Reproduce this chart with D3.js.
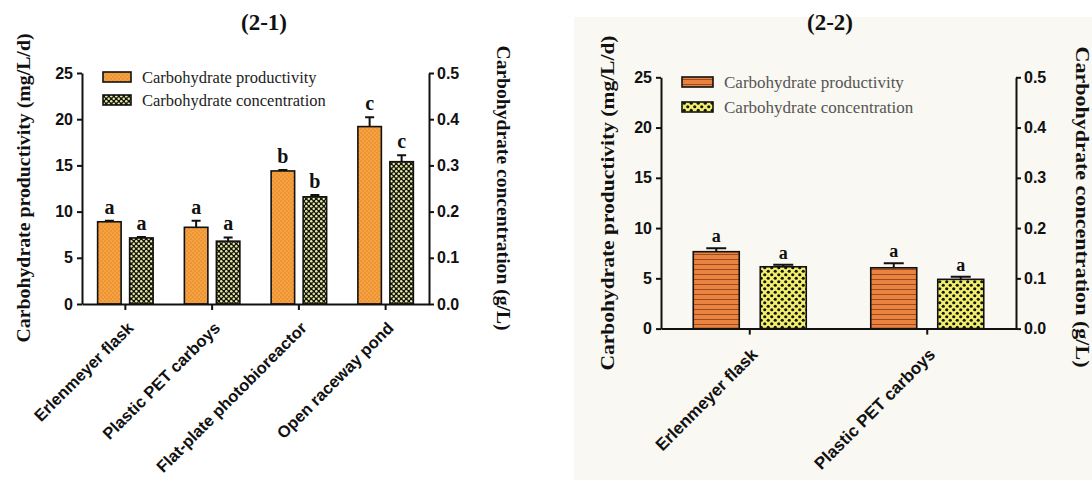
<!DOCTYPE html>
<html>
<head>
<meta charset="utf-8">
<script src="https://d3js.org/d3.v7.min.js"></script>
<style>
  body { margin:0; background:#fff; }
  svg text { font-family: "Liberation Sans", Arial, sans-serif; fill:#111; }
  .serif { font-family: "Liberation Serif", "Times New Roman", serif !important; }
  .axis path, .axis line { stroke:#111; stroke-width:2; }
  .axis text { font-weight:bold; font-size:15px; }
  .bar { stroke:#111; stroke-width:1.6; }
  .err { stroke:#111; stroke-width:2; fill:none; }
</style>
</head>
<body>
<svg id="chart" width="1092" height="480"></svg>
<script>
// ---- data, panel (2-1)
var cats1 = ["Erlenmeyer flask", "Plastic PET carboys", "Flat-plate photobioreactor", "Open raceway pond"];
var prod1 = [8.9, 8.3, 14.4, 19.2];
var prodErr1 = [0.1, 0.7, 0.1, 1.0];
var conc1 = [0.143, 0.136, 0.232, 0.308];
var concErr1 = [0.002, 0.008, 0.004, 0.014];
var prodLetters1 = ["a", "a", "b", "c"];
var concLetters1 = ["a", "a", "b", "c"];

// ---- data, panel (2-2)
var cats2 = ["Erlenmeyer flask", "Plastic PET carboys"];
var prod2 = [7.65, 6.05];
var prodErr2 = [0.35, 0.45];
var conc2 = [0.123, 0.098];
var concErr2 = [0.004, 0.005];
var prodLetters2 = ["a", "a"];
var concLetters2 = ["a", "a"];

// ---- shared axis ticks / labels
var leftTicks = [0, 5, 10, 15, 20, 25];
var rightTicks = [0, 0.1, 0.2, 0.3, 0.4, 0.5];
var seriesNames = ["Carbohydrate productivity", "Carbohydrate concentration"];
var leftTitle = "Carbohydrate productivity (mg/L/d)";
var rightTitle = "Carbohydrate concentration (g/L)";

var svg = d3.select('#chart');
var defs = svg.append('defs');

// fill patterns
function dotPattern(id, size, bg, fg, r, diag) {
  var p = defs.append('pattern').attr('id', id)
    .attr('patternUnits', 'userSpaceOnUse')
    .attr('width', size).attr('height', size);
  p.append('rect').attr('width', size).attr('height', size).attr('fill', bg);
  p.append('circle').attr('cx', size / 4).attr('cy', size / 4).attr('r', r).attr('fill', fg);
  if (diag) p.append('circle').attr('cx', size * 3 / 4).attr('cy', size * 3 / 4).attr('r', r).attr('fill', fg);
}
dotPattern('dotOrange', 4, '#f7a13f', '#dd8530', 0.8, true);
dotPattern('chkGreen', 5, '#15150a', '#e3e7a8', 1.25, true);
dotPattern('chkYellow', 7, '#f1ef6c', '#151510', 1.6, true);
var st = defs.append('pattern').attr('id', 'stripeOrange')
  .attr('patternUnits', 'userSpaceOnUse').attr('width', 6).attr('height', 5);
st.append('rect').attr('width', 6).attr('height', 5).attr('fill', '#ea8240');
st.append('rect').attr('y', 4).attr('width', 6).attr('height', 1).attr('fill', '#9c4a1f');

// background of the second picture
svg.append('rect').attr('x', 574).attr('y', 17).attr('width', 518).attr('height', 463).attr('fill', '#faf8f2');

function drawPanel(p) {
  var g = svg.append('g');
  var yL = d3.scaleLinear().domain([0, 25]).range([p.y0, p.y1]);
  var yR = d3.scaleLinear().domain([0, 0.5]).range([p.y0, p.y1]);
  var x = d3.scaleBand().domain(p.cats).range([p.x0, p.x1]);

  // title
  g.append('text').attr('class', 'serif')
    .attr('x', p.titleX).attr('y', 30).attr('text-anchor', 'middle')
    .style('font-size', '23px').style('font-weight', 'bold')
    .text(p.title);

  // bars
  var half = x.bandwidth() / 2;
  var series = [
    {vals: p.prod, errs: p.prodErr, lets: p.prodLet, y: yL, fill: p.fillA, dx: -p.gap / 2 - p.barW},
    {vals: p.conc, errs: p.concErr, lets: p.concLet, y: yR, fill: p.fillB, dx: p.gap / 2}
  ];
  series.forEach(function(s) {
    var rows = p.cats.map(function(c, i) { return {c: c, v: s.vals[i], e: s.errs[i], l: s.lets[i]}; });
    // error bars
    g.selectAll(null).data(rows).enter().append('path').attr('class', 'err')
      .attr('d', function(d) {
        var cx = x(d.c) + half + s.dx + p.barW / 2;
        var t = s.y(d.v + d.e);
        return 'M' + cx + ',' + s.y(d.v) + 'V' + t + 'M' + (cx - p.cap / 2) + ',' + t + 'H' + (cx + p.cap / 2);
      });
    g.selectAll(null).data(rows).enter().append('rect').attr('class', 'bar')
      .attr('x', function(d) { return x(d.c) + half + s.dx; })
      .attr('y', function(d) { return s.y(d.v); })
      .attr('width', p.barW)
      .attr('height', function(d) { return p.y0 - s.y(d.v); })
      .attr('fill', 'url(#' + s.fill + ')');
    g.selectAll(null).data(rows).enter().append('text').attr('class', 'serif')
      .attr('x', function(d) { return x(d.c) + half + s.dx + p.barW / 2; })
      .attr('y', function(d) { return s.y(d.v + d.e) - p.letGap; })
      .attr('text-anchor', 'middle')
      .style('font-size', p.letSize + 'px').style('font-weight', 'bold')
      .text(function(d) { return d.l; });
  });

  // axes
  g.append('g').attr('class', 'axis').attr('transform', 'translate(' + p.x0 + ',0)')
    .call(d3.axisLeft(yL).tickValues(leftTicks).tickSize(5).tickSizeOuter(0).tickPadding(4))
    .selectAll('text').style('font-size', p.tickSize + 'px');
  g.append('g').attr('class', 'axis').attr('transform', 'translate(' + p.x1 + ',0)')
    .call(d3.axisRight(yR).tickValues(rightTicks).tickFormat(d3.format('.1f')).tickSize(5).tickSizeOuter(0).tickPadding(3))
    .selectAll('text').style('font-size', p.tickSize + 'px');
  g.append('g').attr('class', 'axis').attr('transform', 'translate(0,' + p.y0 + ')')
    .call(d3.axisBottom(x).tickSize(6).tickSizeOuter(0).tickFormat(''));

  // rotated category labels
  g.selectAll(null).data(p.cats).enter().append('text')
    .attr('transform', function(d) {
      return 'translate(' + (x(d) + half + p.labDx) + ',' + (p.y0 + p.labDy) + ') rotate(-45)';
    })
    .attr('text-anchor', 'end')
    .style('font-size', p.labSize + 'px').style('font-weight', 'bold')
    .text(function(d) { return d; });

  // axis titles
  g.append('text').attr('class', 'serif')
    .attr('transform', 'translate(' + p.ltX + ',' + p.ltY + ') rotate(-90)')
    .attr('text-anchor', 'middle').attr('dominant-baseline', 'central')
    .attr('textLength', p.ltLen).attr('lengthAdjust', 'spacingAndGlyphs')
    .style('font-size', p.axTitleSize + 'px').style('font-weight', 'bold')
    .text(leftTitle);
  g.append('text').attr('class', 'serif')
    .attr('transform', 'translate(' + p.rtX + ',' + p.rtY + ') rotate(90)')
    .attr('text-anchor', 'middle').attr('dominant-baseline', 'central')
    .attr('textLength', p.rtLen).attr('lengthAdjust', 'spacingAndGlyphs')
    .style('font-size', p.axTitleSize + 'px').style('font-weight', 'bold')
    .text(rightTitle);

  // legend
  var lg = g.append('g');
  [p.fillA, p.fillB].forEach(function(f, i) {
    lg.append('rect').attr('class', 'bar')
      .attr('x', p.legX).attr('y', p.legY + i * p.legStep - 5)
      .attr('width', p.legW).attr('height', 10)
      .attr('fill', 'url(#' + f + ')');
    lg.append('text').attr('class', 'serif')
      .attr('x', p.legX + p.legW + 11).attr('y', p.legY + i * p.legStep)
      .attr('dominant-baseline', 'central')
      .style('font-size', p.legSize + 'px').style('fill', p.legColor)
      .text(seriesNames[i]);
  });
}

drawPanel({
  title: '(2-1)', titleX: 264,
  cats: cats1, prod: prod1, prodErr: prodErr1, conc: conc1, concErr: concErr1,
  prodLet: prodLetters1, concLet: concLetters1,
  x0: 82, x1: 429, y0: 304, y1: 73,
  barW: 23.5, gap: 8.5, cap: 9, letGap: 7, letSize: 20,
  fillA: 'dotOrange', fillB: 'chkGreen',
  tickSize: 16, labSize: 16.5, labDx: 9, labDy: 25,
  ltX: 24, ltY: 188, ltLen: 309, rtX: 503, rtY: 188, rtLen: 285, axTitleSize: 18,
  legX: 103, legY: 77, legStep: 23, legW: 28, legSize: 16.5, legColor: '#222'
});

drawPanel({
  title: '(2-2)', titleX: 830,
  cats: cats2, prod: prod2, prodErr: prodErr2, conc: conc2, concErr: concErr2,
  prodLet: prodLetters2, concLet: concLetters2,
  x0: 661, x1: 1016, y0: 328.6, y1: 77.3,
  barW: 46, gap: 21, cap: 20, letGap: 6, letSize: 18,
  fillA: 'stripeOrange', fillB: 'chkYellow',
  tickSize: 16, labSize: 17, labDx: 9, labDy: 27,
  ltX: 607, ltY: 203, ltLen: 335, rtX: 1082, rtY: 207, rtLen: 321, axTitleSize: 19,
  legX: 682, legY: 82, legStep: 25, legW: 31, legSize: 17, legColor: '#555'
});
</script>
</body>
</html>
